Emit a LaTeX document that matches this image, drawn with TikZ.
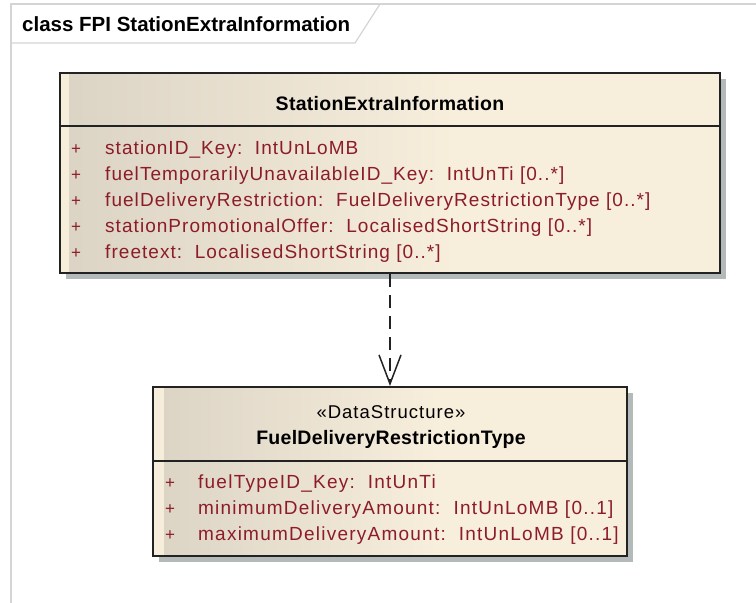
\documentclass[tikz,border=0pt]{standalone}
\usepackage{fontspec}
\setmainfont{Liberation Sans}
\newfontfamily\attrfont[LetterSpace=5.5]{Liberation Sans}
\newfontfamily\attrwidefont[LetterSpace=6.5]{Liberation Sans}
\newfontfamily\namefont[LetterSpace=1.5]{Liberation Sans Bold}
\usetikzlibrary{arrows.meta,shadows}

\definecolor{framegray}{RGB}{212,212,212}
\definecolor{umlcream}{RGB}{247,238,220}
\definecolor{umlbeige}{RGB}{219,211,196}
\definecolor{umlstrip}{RGB}{246,237,219}
\definecolor{umlborder}{RGB}{34,34,34}
\definecolor{umlshadow}{RGB}{180,185,185}
\definecolor{attrred}{RGB}{140,28,40}

\pgfdeclarehorizontalshading{umlfade}{100bp}{color(0bp)=(umlbeige); color(25bp)=(umlbeige); color(55bp)=(umlcream); color(100bp)=(umlcream)}

\tikzset{
  frameline/.style={draw=framegray, line width=1.2pt},
  classbox/.style={draw=umlborder, line width=2pt, shade, shading=umlfade, inner sep=0pt,
    drop shadow={shadow xshift=6pt, shadow yshift=-6pt, fill=umlshadow, opacity=1}},
  sepline/.style={draw=umlborder, line width=2pt},
  classname/.style={anchor=base, inner sep=0pt, font=\namefont\fontsize{19.5}{23}\selectfont},
  stereo/.style={anchor=base, inner sep=0pt, font=\attrfont\fontsize{18.5}{22}\selectfont},
  attr/.style={anchor=base west, inner sep=0pt, text=attrred, font=\attrfont\fontsize{19}{23}\selectfont},
  attrwide/.style={attr, font=\attrwidefont\fontsize{19}{23}\selectfont},
  vis/.style={anchor=base, inner sep=0pt, text=attrred, font=\fontsize{17}{20}\selectfont},
  depend/.style={draw=umlborder, line width=1.5pt, dash pattern=on 13pt off 8pt,
    -{Straight Barb[length=29pt,width=22pt,line width=1.5pt]}}
}

\begin{document}
\begin{tikzpicture}[x=1pt,y=-1pt]
    \useasboundingbox (0,0) rectangle (756,603);
    % Frame %
    \draw[frameline] (11,603) -- (11,4) -- (756,4);
    \draw[frameline] (11,43) -- (355,43) -- (380,4);
    \node[anchor=base west, inner sep=0pt, font=\bfseries\fontsize{20.5}{24}\selectfont] (frametitle) at (22,31) {class FPI StationExtraInformation};

    % StationExtraInformation %
    \node[classbox, minimum width=660pt, minimum height=200pt] (sei) at (390,173) {};
    \fill[umlstrip] ([xshift=2pt,yshift=-2pt]sei.north west) rectangle ([xshift=10pt,yshift=2pt]sei.south west);
    \draw[sepline] ([yshift=-54pt]sei.north west) -- ([yshift=-54pt]sei.north east);
    \node[classname] (seiname) at (390,110) {StationExtraInformation};
    \node[vis] (seivis1) at (76,154) {+};
    \node[attr] (seiattr1) at (105,154) {stationID\_Key:~~IntUnLoMB};
    \node[vis] (seivis2) at (76,180) {+};
    \node[attr] (seiattr2) at (105,180) {fuelTemporarilyUnavailableID\_Key:~~IntUnTi [0..*]};
    \node[vis] (seivis3) at (76,206) {+};
    \node[attr] (seiattr3) at (105,206) {fuelDeliveryRestriction:~~FuelDeliveryRestrictionType [0..*]};
    \node[vis] (seivis4) at (76,232) {+};
    \node[attr] (seiattr4) at (105,232) {stationPromotionalOffer:~~LocalisedShortString [0..*]};
    \node[vis] (seivis5) at (76,258) {+};
    \node[attr] (seiattr5) at (105,258) {freetext:~~LocalisedShortString [0..*]};

    % FuelDeliveryRestrictionType %
    \node[classbox, minimum width=474pt, minimum height=169pt] (fdrt) at (390,471.5) {};
    \fill[umlstrip] ([xshift=2pt,yshift=-2pt]fdrt.north west) rectangle ([xshift=12pt,yshift=2pt]fdrt.south west);
    \draw[sepline] ([yshift=-75pt]fdrt.north west) -- ([yshift=-75pt]fdrt.north east);
    \node[stereo] (fdrtstereo) at (391,418) {«DataStructure»};
    \node[classname] (fdrtname) at (391,444) {FuelDeliveryRestrictionType};
    \node[vis] (fdrtvis1) at (170,488) {+};
    \node[attrwide] (fdrtattr1) at (198,488) {fuelTypeID\_Key:~~IntUnTi};
    \node[vis] (fdrtvis2) at (170,514) {+};
    \node[attrwide] (fdrtattr2) at (198,514) {minimumDeliveryAmount:~~IntUnLoMB [0..1]};
    \node[vis] (fdrtvis3) at (170,540) {+};
    \node[attrwide] (fdrtattr3) at (198,540) {maximumDeliveryAmount:~~IntUnLoMB [0..1]};

    % Dependency %
    \draw[depend] (sei.south) -- (fdrt.north);
\end{tikzpicture}
\end{document}
